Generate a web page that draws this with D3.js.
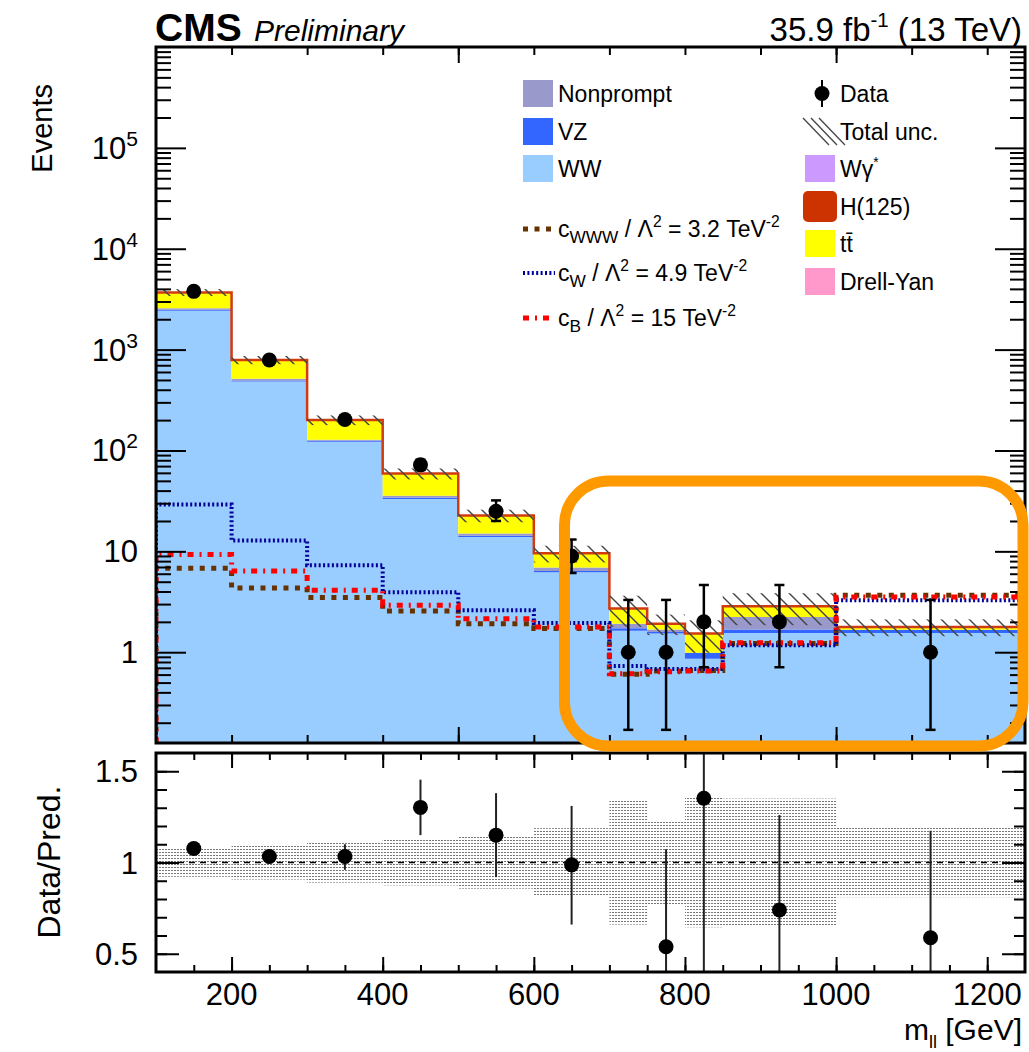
<!DOCTYPE html>
<html><head><meta charset="utf-8">
<script src="https://cdn.jsdelivr.net/npm/d3@7"></script>
<style>
body{margin:0;background:#fff}
svg{display:block}
text{font-family:"Liberation Sans",Arial,Helvetica,sans-serif;fill:#000}
</style>
</head><body>
<svg id="c" width="1029" height="1052"></svg>
<script>
// ---------------- data ----------------
const binEdges = [100,200,300,400,500,600,700,750,800,850,1000,1250];
const ww        = [2430, 482, 122, 33, 13.9, 6.2, 1.63, 1.53, 0.86, 1.55, 1.55];
const vz        = [60, 12, 3, 1.0, 0.4, 0.2, 0.10, 0.06, 0.13, 0.13, 0.12];
const nonprompt = [75, 19, 2.6, 1.5, 0.7, 0.5, 0.19, 0.09, 0.0, 0.56, 0.0];
const wgstar    = [4, 1, 0.3, 0.1, 0.05, 0.02, 0, 0, 0, 0, 0];
const drellYan  = [2, 0.5, 0.1, 0, 0, 0, 0, 0, 0, 0, 0];
const ttbar     = [1100, 270, 71, 23, 7.5, 2.6, 0.79, 0.24, 0.54, 0.61, 0.11];
const h125      = [20, 6, 1.5, 0.4, 0.1, 0.05, 0, 0, 0, 0, 0];
const totalUnc  = [0.078, 0.093, 0.11, 0.125, 0.143, 0.188, 0.34, 0.23, 0.355, 0.35, 0.19];

const dataVals  = [3780, 790, 203, 72, 25, 9, 1, 1, 2, 2, 1];
const dataLo    = [3720, 762, 189, 64, 20, 6.1, 0.17, 0.17, 0.71, 0.71, 0.17];
const dataHi    = [3840, 818, 217, 81, 32, 13.1, 3.3, 3.3, 4.64, 4.64, 3.3];

const cWWW = [6.8, 4.33, 3.48, 2.56, 1.92, 1.72, 0.605, 0.65, 0.66, 1.22, 3.67];
const cW   = [29.2, 12.8, 7.3, 3.93, 2.6, 1.95, 0.73, 0.68, 0.68, 1.17, 3.27];
const cB   = [9.3, 6.4, 4.11, 2.92, 2.15, 1.78, 0.61, 0.64, 0.65, 1.24, 3.53];

const ratioVals = [1.077, 1.033, 1.033, 1.302, 1.15, 0.987, null, 0.538, 1.352, 0.74, 0.588];
const ratioLo   = [1.062, 1.02, 0.96, 1.15, 0.92, 0.66, null, 0.0, 0.3, 0.2, 0.0];
const ratioHi   = [1.092, 1.046, 1.10, 1.454, 1.38, 1.31, null, 1.073, 2.3, 1.26, 1.174];

const yMajorTicks = [1, 10, 100, 1000, 10000, 100000];
const yMajorLabels = [["1",""],["10",""],["10","2"],["10","3"],["10","4"],["10","5"]];
const xLabelTicks = [200, 400, 600, 800, 1000, 1200];
const ratioLabelTicks = [0.5, 1, 1.5];
const ratioLabels = ["0.5", "1", "1.5"];

// ---------------- layout ----------------
const L = 156, Rt = 1025, T = 47, B = 743, RT = 753, RB = 972;
const svg = d3.select("#c");
const x = d3.scaleLinear().domain([100, 1250]).range([L, Rt]);
const yMin = Math.pow(10, -0.9);
const y = d3.scaleLog().domain([yMin, 1e6]).range([B, T]);
const yr = d3.scaleLinear().domain([0.4, 1.6]).range([RB, RT]);

const defs = svg.append("defs");
defs.append("clipPath").attr("id","clipMain").append("rect")
  .attr("x", L).attr("y", T).attr("width", Rt-L).attr("height", B-T);
defs.append("clipPath").attr("id","clipRatio").append("rect")
  .attr("x", L).attr("y", RT).attr("width", Rt-L).attr("height", RB-RT);
const hp = defs.append("pattern").attr("id","hatch").attr("patternUnits","userSpaceOnUse")
  .attr("width",14).attr("height",14);
hp.append("path").attr("d","M-2,-2 L16,16 M-9,5 L9,23 M5,-9 L23,9")
  .attr("stroke","#444").attr("stroke-width",1.4);
const dp = defs.append("pattern").attr("id","dots").attr("patternUnits","userSpaceOnUse")
  .attr("width",3).attr("height",3);
dp.append("rect").attr("x",0).attr("y",0).attr("width",2).attr("height",1).attr("fill","#777");

// ---------------- main panel ----------------
const gm = svg.append("g").attr("clip-path","url(#clipMain)");
const comps = [
  {v: ww, c: "#99ccff"},
  {v: vz, c: "#3366ff"},
  {v: nonprompt, c: "#9999cc"},
  {v: wgstar, c: "#cc99ff"},
  {v: drellYan, c: "#ff99cc"},
  {v: ttbar, c: "#ffff00"},
  {v: h125, c: "#cc3300"}
];
const nb = ww.length;
const cum = new Array(nb).fill(0);
const areaStep = d3.area().x(d => x(d.e))
  .y0(d => d.lo <= 0 ? B + 2 : y(d.lo)).y1(d => d.hi <= 0 ? B + 2 : y(d.hi))
  .curve(d3.curveStepAfter);
comps.forEach(cp => {
  const pts = [];
  for (let i = 0; i < nb; i++) {
    const lo = cum[i], hi = cum[i] + cp.v[i];
    pts.push({e: binEdges[i], lo: lo, hi: hi});
    cum[i] = hi;
  }
  pts.push({e: binEdges[nb], lo: pts[nb-1].lo, hi: pts[nb-1].hi});
  gm.append("path").attr("d", areaStep(pts)).attr("fill", cp.c);
});
const totals = cum.slice();
// stack outline
function stepPts(vals) {
  const pts = [[binEdges[0], yMin]];
  vals.forEach((v, i) => pts.push([binEdges[i], v]));
  pts.push([binEdges[nb], vals[nb-1]]);
  return pts;
}
const stepLine = d3.line().x(d => x(d[0])).y(d => y(Math.max(d[1], yMin))).curve(d3.curveStepAfter);
gm.append("path").attr("d", stepLine(stepPts(totals))).attr("fill","none")
  .attr("stroke","#d23a10").attr("stroke-width",2.5);
// total unc hatch
totals.forEach((t, i) => {
  gm.append("rect").attr("x", x(binEdges[i])).attr("width", x(binEdges[i+1]) - x(binEdges[i]))
    .attr("y", y(t*(1+totalUnc[i]))).attr("height", y(t*(1-totalUnc[i])) - y(t*(1+totalUnc[i])))
    .attr("fill","url(#hatch)");
});
// EFT lines
const eft = [
  {v: cWWW, c: "#663300", w: 5, dash: "5,6.5"},
  {v: cW,   c: "#000099", w: 4, dash: "2,2.4"},
  {v: cB,   c: "#ff0000", w: 5, dash: "6,6,2,6"}
];
eft.forEach(e => {
  gm.append("path").attr("d", stepLine(stepPts(e.v))).attr("fill","none")
    .attr("stroke", e.c).attr("stroke-width", e.w).attr("stroke-dasharray", e.dash);
});

// axes ticks (main)
function minorLog() {
  const out = [];
  for (let e = -1; e <= 5; e++) for (let k = 2; k <= 9; k++) {
    const v = k * Math.pow(10, e);
    if (v > yMin && v < 1e6) out.push(v);
  }
  return out;
}
function tickAxis(axisFn, scale, vals, size, tx, ty, sw) {
  const g = svg.append("g").attr("transform", `translate(${tx},${ty})`)
    .call(axisFn(scale).tickValues(vals).tickSize(size).tickFormat(""));
  g.select(".domain").remove();
  g.selectAll("line").attr("stroke","#000").attr("stroke-width", sw || 2);
  return g;
}
tickAxis(d3.axisRight, y, minorLog(), 15, L, 0);
tickAxis(d3.axisRight, y, yMajorTicks, 30, L, 0);
tickAxis(d3.axisLeft, y, minorLog(), 15, Rt, 0);
tickAxis(d3.axisLeft, y, yMajorTicks, 30, Rt, 0);
const xMainMinor = d3.range(200, 1250, 100);
tickAxis(d3.axisTop, x, xMainMinor, 8, 0, B);
tickAxis(d3.axisTop, x, [500, 1000], 16, 0, B);
tickAxis(d3.axisBottom, x, xMainMinor, 8, 0, T);
tickAxis(d3.axisBottom, x, [500, 1000], 16, 0, T);

// data points
const gd = svg.append("g");
dataVals.forEach((v, i) => {
  const cx = x((binEdges[i] + binEdges[i+1]) / 2);
  gd.append("line").attr("x1", cx).attr("x2", cx).attr("y1", y(dataLo[i])).attr("y2", y(dataHi[i]))
    .attr("stroke","#000").attr("stroke-width",2.5);
  [dataLo[i], dataHi[i]].forEach(e => gd.append("line").attr("x1", cx-5).attr("x2", cx+5)
    .attr("y1", y(e)).attr("y2", y(e)).attr("stroke","#000").attr("stroke-width",2.5));
  gd.append("circle").attr("cx", cx).attr("cy", y(v)).attr("r", 7.5).attr("fill","#000");
});

// frame main
svg.append("rect").attr("x", L).attr("y", T).attr("width", Rt-L).attr("height", B-T)
  .attr("fill","none").attr("stroke","#000").attr("stroke-width",3);

// ---------------- ratio panel ----------------
const gr = svg.append("g").attr("clip-path","url(#clipRatio)");
totalUnc.forEach((u, i) => {
  gr.append("rect").attr("x", x(binEdges[i])).attr("width", x(binEdges[i+1]) - x(binEdges[i]))
    .attr("y", yr(1+u)).attr("height", yr(1-u) - yr(1+u)).attr("fill","url(#dots)");
});
gr.append("line").attr("x1", L).attr("x2", Rt).attr("y1", yr(1)).attr("y2", yr(1))
  .attr("stroke","#000").attr("stroke-width",1.6).attr("stroke-dasharray","6,5");
ratioVals.forEach((v, i) => {
  if (v === null) return;
  const cx = x((binEdges[i] + binEdges[i+1]) / 2);
  gr.append("line").attr("x1", cx).attr("x2", cx).attr("y1", yr(ratioLo[i])).attr("y2", yr(ratioHi[i]))
    .attr("stroke","#222").attr("stroke-width",2);
  gr.append("circle").attr("cx", cx).attr("cy", yr(v)).attr("r", 7.5).attr("fill","#000");
});
const rMinor = d3.range(5, 16).map(d => d / 10);
tickAxis(d3.axisRight, yr, rMinor, 11, L, 0);
tickAxis(d3.axisRight, yr, ratioLabelTicks, 23, L, 0);
tickAxis(d3.axisLeft, yr, rMinor, 11, Rt, 0);
tickAxis(d3.axisLeft, yr, ratioLabelTicks, 23, Rt, 0);
const xRMinor = d3.range(150, 1250, 50);
tickAxis(d3.axisTop, x, xRMinor, 7, 0, RB);
tickAxis(d3.axisTop, x, xLabelTicks, 15, 0, RB);
tickAxis(d3.axisBottom, x, xRMinor, 7, 0, RT);
tickAxis(d3.axisBottom, x, xLabelTicks, 15, 0, RT);
svg.append("rect").attr("x", L).attr("y", RT).attr("width", Rt-L).attr("height", RB-RT)
  .attr("fill","none").attr("stroke","#000").attr("stroke-width",3);

// ---------------- text ----------------
function rich(x0, y0, segs, size, opts) {
  opts = opts || {};
  const t = svg.append("text").attr("x", x0).attr("y", y0).attr("font-size", size)
    .attr("text-anchor", opts.anchor || "start");
  if (opts.weight) t.attr("font-weight", opts.weight);
  if (opts.italic) t.attr("font-style", "italic");
  if (opts.rotate) t.attr("transform", `rotate(${opts.rotate},${x0},${y0})`);
  let cur = 0;
  segs.forEach(s => {
    const off = s.sup ? -size * 0.42 : s.sub ? size * 0.28 : 0;
    const ts = t.append("tspan").attr("dy", off - cur).text(s.t);
    if (s.sup || s.sub) ts.attr("font-size", size * (s.scale || 0.68));
    if (s.dx) ts.attr("dx", s.dx);
    cur = off;
  });
  return t;
}
// y tick labels
yMajorTicks.forEach((v, i) => {
  const lab = yMajorLabels[i];
  const segs = [{t: lab[0]}];
  if (lab[1]) segs.push({t: lab[1], sup: true, scale: 0.68});
  rich(138, y(v) + 11, segs, 31, {anchor: "end"});
});
ratioLabelTicks.forEach((v, i) => rich(138, yr(v) + 11, [{t: ratioLabels[i]}], 31, {anchor: "end"}));
xLabelTicks.forEach(v => rich(x(v), 1005, [{t: String(v)}], 31, {anchor: "middle"}));
rich(1022, 1040, [{t: "m"}, {t: "ll", sub: true, scale: 0.6}, {t: " [GeV]"}], 30, {anchor: "end"});
rich(52, 84, [{t: "Events"}], 29, {anchor: "end", rotate: -90});
rich(60, 862, [{t: "Data/Pred."}], 32, {anchor: "middle", rotate: -90});
rich(155, 41, [{t: "CMS"}], 39, {weight: "bold"});
rich(254, 41, [{t: "Preliminary"}], 30, {italic: true});
rich(1022, 41, [{t: "35.9 fb"}, {t: "-1", sup: true, scale: 0.62}, {t: " (13 TeV)"}], 33, {anchor: "end"});

// ---------------- legend ----------------
const lg = svg.append("g");
const legFont = 23;
const leftRows = [
  {lab: [{t: "Nonprompt"}], c: "#9999cc", yc: 93.5},
  {lab: [{t: "VZ"}], c: "#3366ff", yc: 131.5},
  {lab: [{t: "WW"}], c: "#99ccff", yc: 168.5}
];
leftRows.forEach(r => {
  lg.append("rect").attr("x", 523).attr("y", r.yc - 13.5).attr("width", 30).attr("height", 27).attr("fill", r.c);
  rich(558, r.yc + 8, r.lab, legFont);
});
const eftRows = [
  {e: eft[0], yc: 229, lab: [{t:"c"},{t:"WWW",sub:true,scale:0.75},{t:" / Λ"},{t:"2",sup:true},{t:" = 3.2 TeV"},{t:"-2",sup:true}]},
  {e: eft[1], yc: 273, lab: [{t:"c"},{t:"W",sub:true,scale:0.75},{t:" / Λ"},{t:"2",sup:true},{t:" = 4.9 TeV"},{t:"-2",sup:true}]},
  {e: eft[2], yc: 318, lab: [{t:"c"},{t:"B",sub:true,scale:0.75},{t:" / Λ"},{t:"2",sup:true},{t:" = 15 TeV"},{t:"-2",sup:true}]}
];
eftRows.forEach(r => {
  lg.append("line").attr("x1", 523).attr("x2", 555).attr("y1", r.yc).attr("y2", r.yc)
    .attr("stroke", r.e.c).attr("stroke-width", r.e.w).attr("stroke-dasharray", r.e.dash);
  rich(558, r.yc + 8, r.lab, legFont);
});
// right column
lg.append("line").attr("x1", 822).attr("x2", 822).attr("y1", 80).attr("y2", 107).attr("stroke","#000").attr("stroke-width",2);
lg.append("circle").attr("cx", 822).attr("cy", 93.5).attr("r", 7.5).attr("fill","#000");
rich(840, 101.5, [{t: "Data"}], legFont);
[0, 1, 2].forEach(k => lg.append("line").attr("x1", 805 + k*8 - 2).attr("y1", 118).attr("x2", 805 + k*8 + 24).attr("y2", 145)
  .attr("stroke","#444").attr("stroke-width",1.3));
rich(840, 139.5, [{t: "Total unc."}], legFont);
const rightRows = [
  {lab: [{t:"Wγ"},{t:"*",sup:true,scale:0.6}], c: "#cc99ff", yc: 168.5},
  {lab: [{t:"H(125)"}], c: "#cc3300", yc: 206.5, border: true},
  {lab: [{t:"tt\u0304"}], c: "#ffff00", yc: 243.5},
  {lab: [{t:"Drell-Yan"}], c: "#ff99cc", yc: 281.5}
];
rightRows.forEach(r => {
  const rc = lg.append("rect").attr("x", 805).attr("y", r.yc - 13.5).attr("width", 30).attr("height", 27).attr("fill", r.c);
  if (r.border) rc.attr("stroke", "#cc3300").attr("stroke-width", 4).attr("rx", 3);
  rich(840, r.yc + 8, r.lab, legFont);
});

// ---------------- highlight box ----------------
svg.append("rect").attr("x", 564.5).attr("y", 481).attr("width", 458.5).attr("height", 265)
  .attr("rx", 44).attr("ry", 44).attr("fill","none").attr("stroke","#ff9900").attr("stroke-width",11);
</script>
</body></html>
